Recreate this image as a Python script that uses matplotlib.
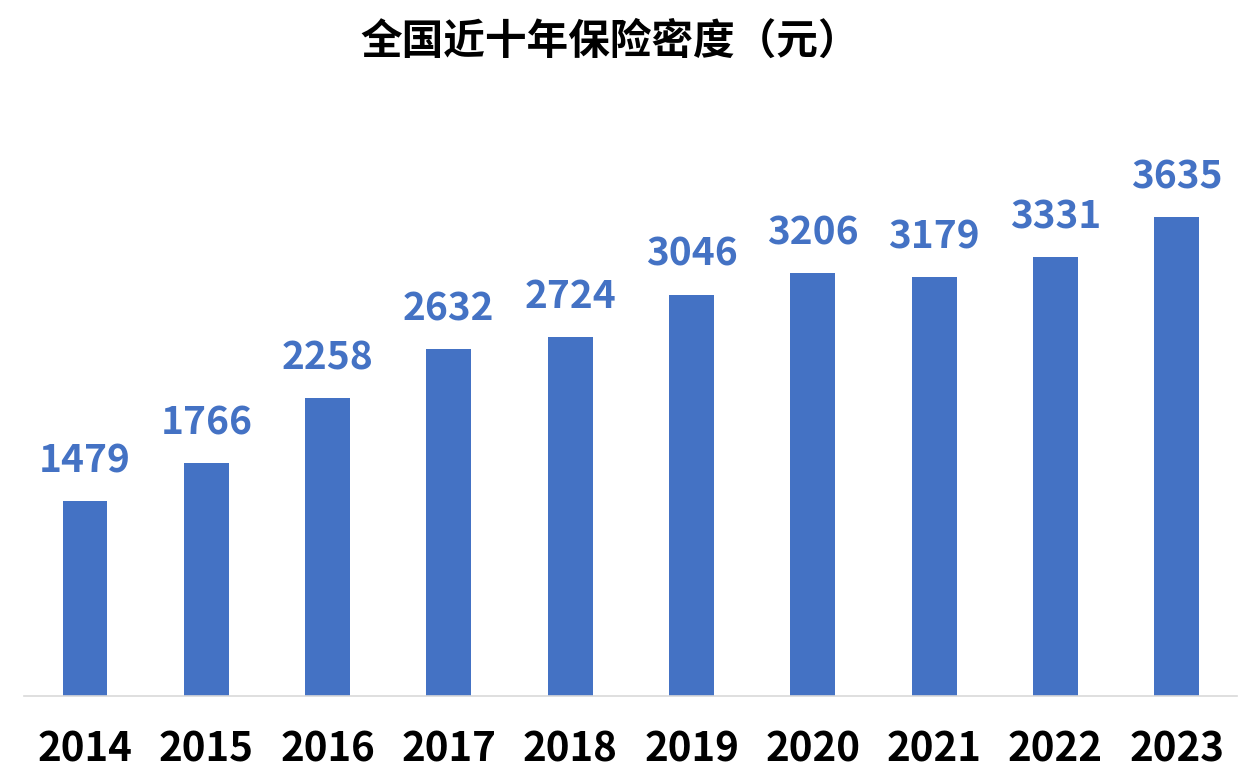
import matplotlib
matplotlib.use('Agg')
import matplotlib.pyplot as plt
import numpy as np

plt.rcParams['font.family'] = ['Noto Sans CJK SC', 'DejaVu Sans']

years = ['2014', '2015', '2016', '2017', '2018', '2019', '2020', '2021', '2022', '2023']
density = [1479, 1766, 2258, 2632, 2724, 3046, 3206, 3179, 3331, 3635]
title = '全国近十年保险密度（元）'

bar_color = '#4472C4'
label_color = '#4472C4'

fig = plt.figure(figsize=(12.56, 7.8), dpi=100)
ax = fig.add_axes([0.0194, 0.1077, 0.9658, 0.764])

x = np.arange(len(years))
bars = ax.bar(x, density, width=0.37, color=bar_color, zorder=2)

# value labels above bars
for xi, v in zip(x, density):
    ax.annotate(str(v), (xi, v), xytext=(0, 15), textcoords='offset points',
                ha='center', va='bottom', fontsize=28, fontweight='bold',
                color=label_color)

ax.set_xlim(-0.5, len(years) - 0.5)
ax.set_ylim(0, 4522)
ax.set_xticks(x)
ax.set_xticklabels(years, fontsize=29, fontweight='bold', color='black')
ax.tick_params(axis='x', length=0, pad=24)
ax.set_yticks([])

for s in ['top', 'right', 'left']:
    ax.spines[s].set_visible(False)
ax.spines['bottom'].set_color('#d9d9d9')
ax.spines['bottom'].set_linewidth(1.2)

fig.text(0.486, 0.946, title, ha='center', va='center', fontsize=30,
         fontweight='bold', color='black')

fig.savefig('out.png', dpi=100, facecolor='white')
